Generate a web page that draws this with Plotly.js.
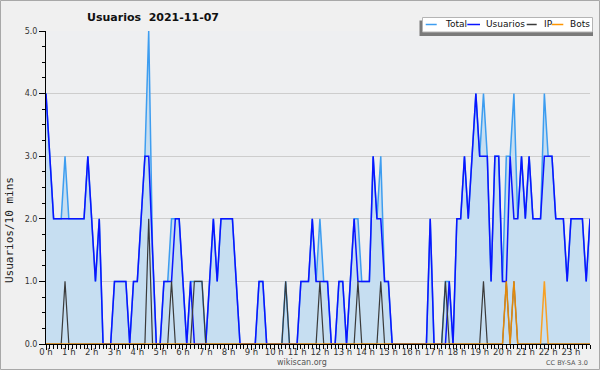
<!DOCTYPE html>
<html>
<head>
<meta charset="utf-8">
<script src="https://cdn.plot.ly/plotly-3.0.1.min.js"></script>
<style>html,body{margin:0;padding:0;background:#f0f0f0;}#chart{width:600px;height:370px;}</style>
</head>
<body>
<div id="chart"></div>
<script>
// 10-minute slots of the day (0..143)
const hourLabels = ["0 h","1 h","2 h","3 h","4 h","5 h","6 h","7 h","8 h","9 h","10 h","11 h",
  "12 h","13 h","14 h","15 h","16 h","17 h","18 h","19 h","20 h","21 h","22 h","23 h"];
const hourSlots = [0,6,12,18,24,30,36,42,48,54,60,66,72,78,84,90,96,102,108,114,120,126,132,138];

const usuarios = [
  4,3,2,2,2,2,2,2,2,2,
  2,3,2,1,2,0,0,0,1,1,
  1,1,0,1,1,2,3,3,1.5,0,
  0,1,1,1,2,2,1,0,1,0,
  0,0,0,1,2,1,2,2,2,2,
  1,0,0,0,0,0,1,1,0,0,
  0,0,0,0,0,0,0,1,1,1,
  2,1,1,1,1,0,0,1,1,0,
  1,2,1,1,1,1,3,2,2,1,
  1,0,0,0,0,0,0,0,0,0,
  0,2,0,0,0,0,1,0,2,2,
  3,2,3,4,3,3,3,1,3,3,
  1,1,3,2,2,3,2,3,2,2,
  2,3,3,3,2,2,2,1,2,2,
  2,2,1,2
];
const total = [
  4,3,2,2,2,3,2,2,2,2,
  2,3,2,1,2,0,0,0,1,1,
  1,1,0,1,1,2,3,5,1.5,0,
  0,1,1,2,2,2,1,0,1,1,
  1,1,0,1,2,1,2,2,2,2,
  1,0,0,0,0,0,1,1,0,0,
  0,0,0,1,0,0,0,1,1,1,
  2,1,2,1,1,0,0,1,1,0,
  1,2,2,1,1,1,3,2,3,1,
  1,0,0,0,0,0,0,0,0,0,
  0,2,0,0,0,1,1,0,2,2,
  3,2,3,4,3,4,3,1,3,3,
  1,3,3,4,2,3,2,3,2,2,
  2,4,3,3,2,2,2,1,2,2,
  2,2,1,2
];
const ip = [
  0,0,0,0,0,1,0,0,0,0,
  0,0,0,0,0,0,0,0,0,0,
  0,0,0,0,0,0,0,2,0,0,
  0,0,0,1,0,0,0,0,0,1,
  1,1,0,0,0,0,0,0,0,0,
  0,0,0,0,0,0,0,0,0,0,
  0,0,0,1,0,0,0,0,0,0,
  0,0,1,0,0,0,0,0,0,0,
  0,0,1,0,0,0,0,0,1,0,
  0,0,0,0,0,0,0,0,0,0,
  0,0,0,0,0,1,0,0,0,0,
  0,0,0,0,0,1,0,0,0,0,
  0,1,0,1,0,0,0,0,0,0,
  0,0,0,0,0,0,0,0,0,0,
  0,0,0,0
];
const bots = [
  0,0,0,0,0,0,0,0,0,0,
  0,0,0,0,0,0,0,0,0,0,
  0,0,0,0,0,0,0,0,0,0,
  0,0,0,0,0,0,0,0,0,0,
  0,0,0,0,0,0,0,0,0,0,
  0,0,0,0,0,0,0,0,0,0,
  0,0,0,0,0,0,0,0,0,0,
  0,0,0,0,0,0,0,0,0,0,
  0,0,0,0,0,0,0,0,0,0,
  0,0,0,0,0,0,0,0,0,0,
  0,0,0,0,0,0,0,0,0,0,
  0,0,0,0,0,0,0,0,0,0,
  0,1,0,1,0,0,0,0,0,0,
  0,1,0,0,0,0,0,0,0,0,
  0,0,0,0
];
const slots = total.map((_, i) => i);

const C_TOTAL = '#3d9df0', C_USER = '#0a14ff', C_IP = '#3a3a3a', C_BOTS = '#ff9500';

const traces = [
  {x: slots, y: total, type: 'scatter', mode: 'lines', name: 'Total', fill: 'tozeroy',
   fillcolor: 'rgba(198,222,241,1)', line: {color: C_TOTAL, width: 1.5}},
  {x: slots, y: usuarios, type: 'scatter', mode: 'lines', name: 'Usuarios', line: {color: C_USER, width: 1.5}},
  {x: slots, y: ip, type: 'scatter', mode: 'lines', name: 'IP', line: {color: C_IP, width: 1.2}},
  {x: slots, y: bots, type: 'scatter', mode: 'lines', name: 'Bots', opacity: 0.85, line: {color: C_BOTS, width: 1.5}}
];

// pixel -> paper helpers (plot area: x 46..590, y 31..344)
const PX = p => (p - 46) / 544;
const PY = p => (344 - p) / 313;

const legendItems = [
  {name: 'Total', color: C_TOTAL, l0: 425.7, l1: 436.7, t: 442.5},
  {name: 'Usuarios', color: C_USER, l0: 467.3, l1: 480, t: 484},
  {name: 'IP', color: C_IP, l0: 526.7, l1: 536.7, t: 542.3},
  {name: 'Bots', color: C_BOTS, l0: 551.7, l1: 563.3, t: 567.5}
];

const shapes = [
  {type: 'rect', xref: 'paper', yref: 'paper', x0: PX(0.5), x1: PX(599.5), y0: PY(0.5), y1: PY(369.5),
   line: {color: '#a8a8a8', width: 1}, fillcolor: 'rgba(0,0,0,0)', layer: 'below'},
  {type: 'rect', xref: 'paper', yref: 'paper', x0: PX(419.5), x1: PX(593), y0: PY(20.5), y1: PY(36),
   line: {width: 0}, fillcolor: '#7a7a7a', layer: 'above'},
  {type: 'rect', xref: 'paper', yref: 'paper', x0: PX(422.5), x1: PX(592.5), y0: PY(17.5), y1: PY(32),
   line: {color: '#b4b4b4', width: 1}, fillcolor: '#ffffff', layer: 'above'}
];
const annotations = [
  {text: 'Usuarios/10 mins', textangle: -90, xref: 'paper', yref: 'paper', x: PX(10), y: PY(230),
   showarrow: false, xanchor: 'center', yanchor: 'middle', font: {family: 'DejaVu Sans Mono', size: 11, color: '#222'}},
  {text: 'wikiscan.org', xref: 'paper', yref: 'paper', x: PX(301.5), y: PY(362), showarrow: false,
   xanchor: 'center', yanchor: 'middle', font: {family: 'DejaVu Sans', size: 8, color: '#555'}},
  {text: 'CC BY-SA 3.0', xref: 'paper', yref: 'paper', x: PX(590), y: PY(362.5), showarrow: false,
   xanchor: 'right', yanchor: 'middle', font: {family: 'DejaVu Sans', size: 6.5, color: '#555'}}
];
legendItems.forEach(it => {
  shapes.push({type: 'line', xref: 'paper', yref: 'paper', x0: PX(it.l0), x1: PX(it.l1), y0: PY(24.5), y1: PY(24.5),
    line: {color: it.color, width: 1.5}, layer: 'above'});
  annotations.push({text: it.name, xref: 'paper', yref: 'paper', x: PX(it.t), y: PY(24.3), showarrow: false,
    xanchor: 'left', yanchor: 'middle', font: {family: 'DejaVu Sans', size: 9, color: '#111'}});
});

const layout = {
  width: 600, height: 370,
  paper_bgcolor: '#f0f0f0', plot_bgcolor: '#eeeff1',
  margin: {l: 46, r: 10, t: 31, b: 26, pad: 0},
  showlegend: false,
  font: {family: 'DejaVu Sans', size: 8.5, color: '#333'},
  title: {text: 'Usuarios\u00a0\u00a02021-11-07', font: {family: 'DejaVu Sans', size: 11, color: '#111', weight: 'bold'},
    xref: 'container', yref: 'container', x: 153 / 600, xanchor: 'center', y: 1 - 17 / 370, yanchor: 'middle'},
  xaxis: {range: [0, 143], tickmode: 'array', tickvals: hourSlots, ticktext: hourLabels,
    ticks: 'outside', ticklen: 5, tickcolor: '#000', tickwidth: 1, ticklabelstandoff: -5,
    showline: true, linecolor: '#000', linewidth: 1, showgrid: false, zeroline: false,
    tickfont: {family: 'DejaVu Sans', size: 8.5, color: '#333'},
    minor: {tickmode: 'linear', tick0: 0, dtick: 1, ticks: 'outside', ticklen: 4, tickcolor: '#000', showgrid: false}},
  yaxis: {range: [0, 5], tick0: 0, dtick: 1, tickformat: '.1f', ticks: 'outside', ticklen: 6, tickcolor: '#000',
    showline: true, linecolor: '#000', linewidth: 1, gridcolor: '#cdcdcd', gridwidth: 1, zeroline: false,
    tickfont: {family: 'DejaVu Sans', size: 8, color: '#333'},
    minor: {tick0: 0, dtick: 0.25, ticks: 'outside', ticklen: 3, tickcolor: '#000', showgrid: false}},
  shapes: shapes,
  annotations: annotations
};

Plotly.newPlot('chart', traces, layout, {displayModeBar: false, staticPlot: true});
</script>
</body>
</html>
